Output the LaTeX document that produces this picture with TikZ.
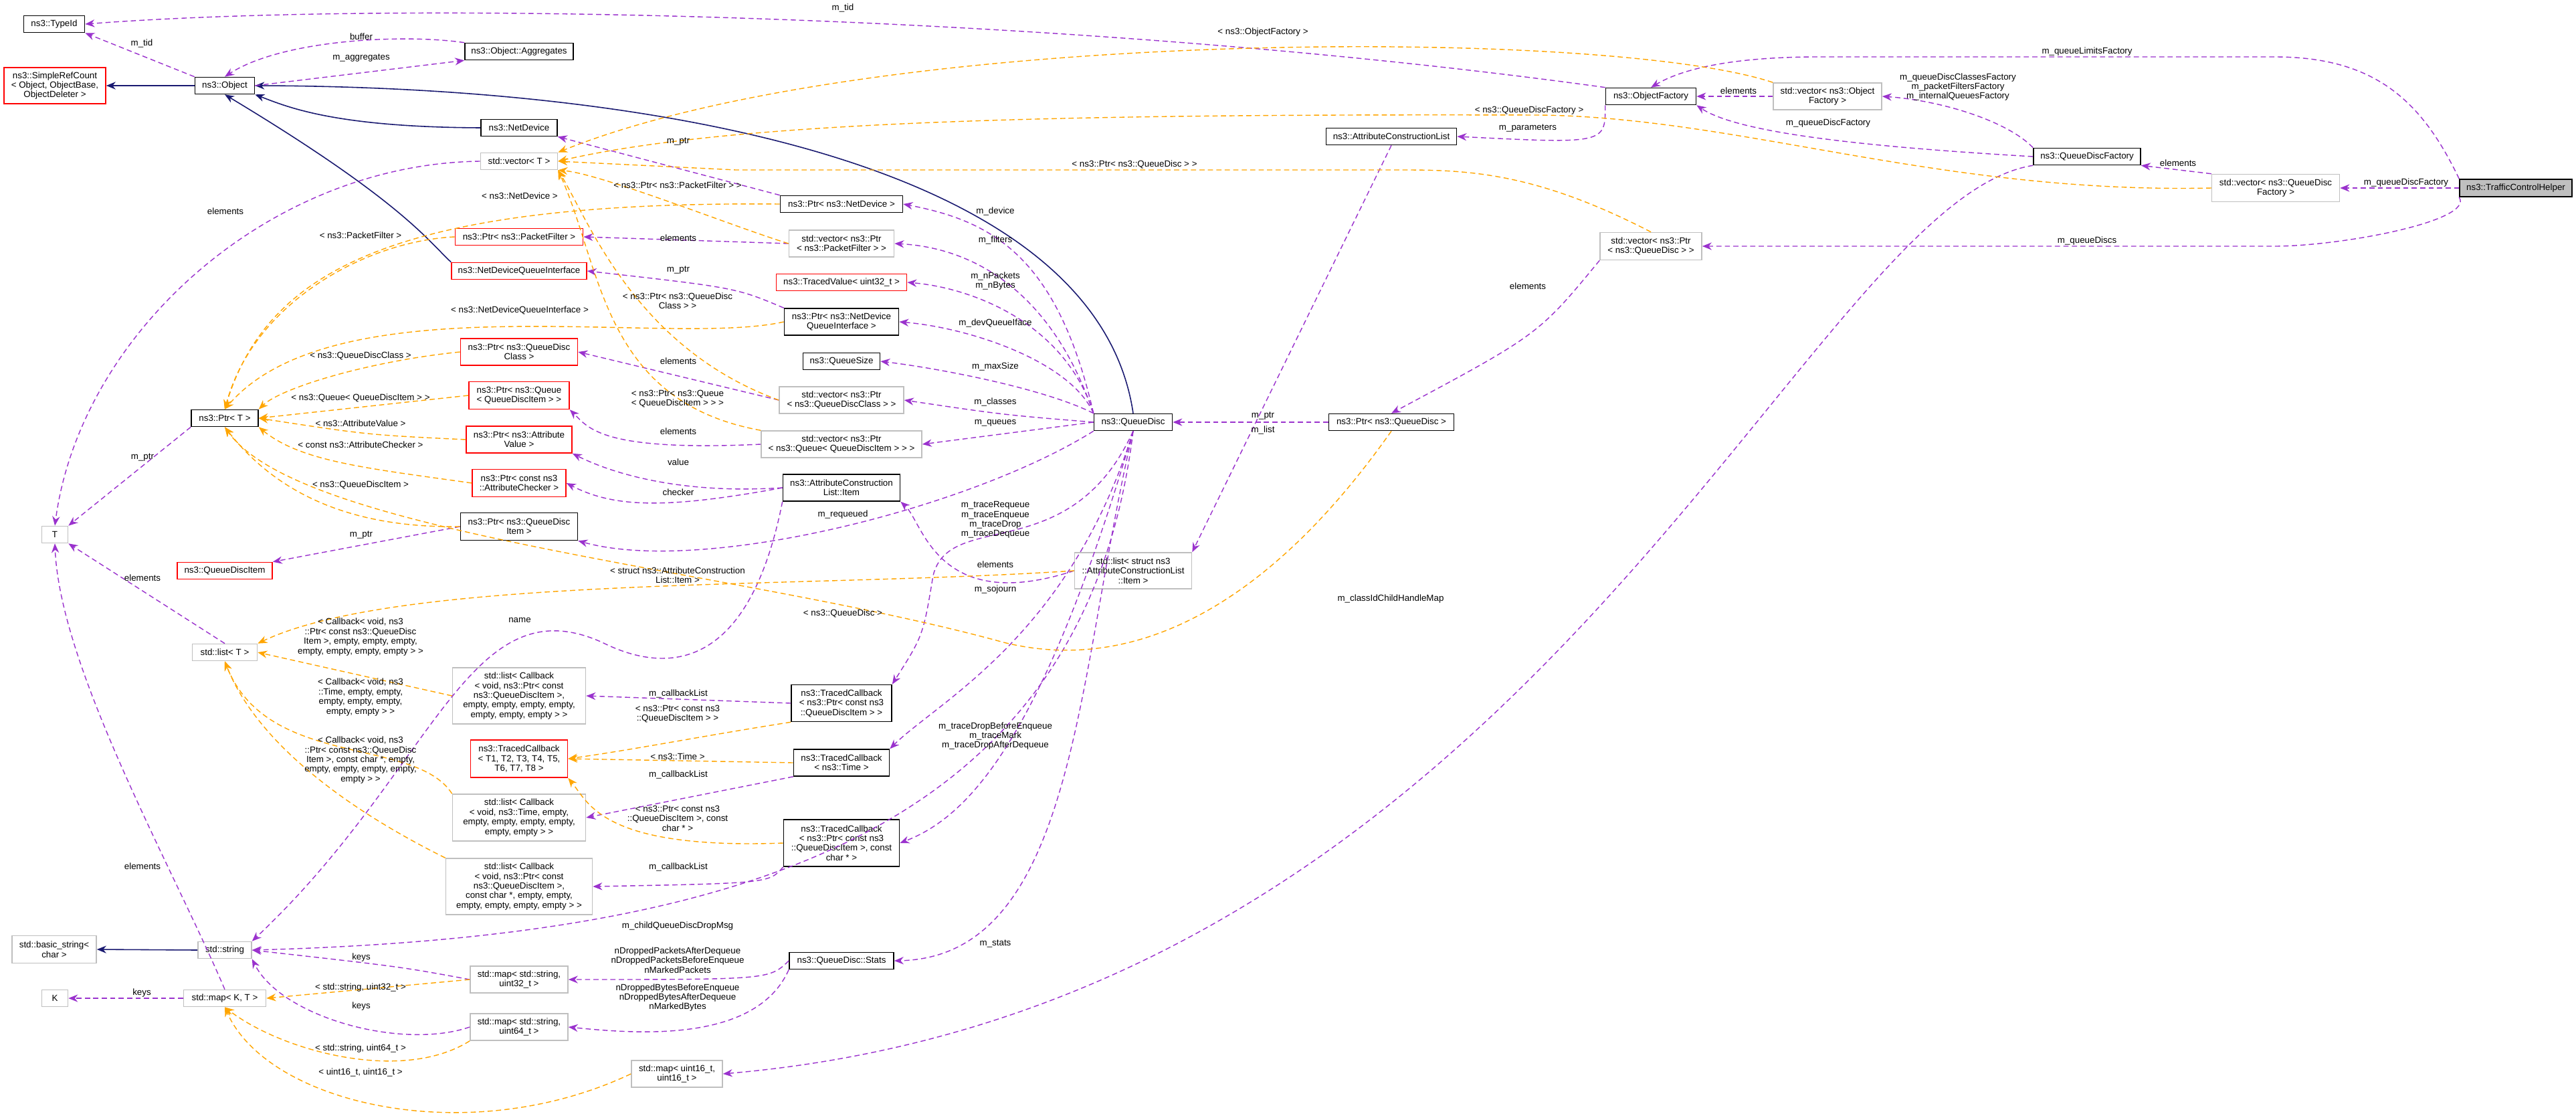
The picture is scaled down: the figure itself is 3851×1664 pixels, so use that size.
\documentclass[tikz,border=0pt]{standalone}
\usepackage{fontspec}
\setmainfont{Liberation Sans}
\usetikzlibrary{arrows.meta}
\definecolor{mp}{HTML}{9A32CD}
\definecolor{mo}{HTML}{FFA500}
\definecolor{mn}{HTML}{191970}
\definecolor{mg}{HTML}{BFBFBF}
\begin{document}
\begin{tikzpicture}[x=0.1mm,y=-0.1mm,
  every node/.style={font=\fontsize{3.8}{4.1}\selectfont,align=center,inner sep=0.8pt},
  bx/.style={draw=black,line width=0.45pt,fill=white,minimum height=2.5mm},
  rb/.style={draw=red,line width=0.45pt,fill=white,minimum height=2.5mm},
  gb/.style={draw=mg,line width=0.45pt,fill=white,minimum height=2.5mm},
  lb/.style={fill=none},
  mem/.style={draw=mp,dashed,dash pattern=on 2.2pt off 1.4pt,line width=0.4pt,-{Stealth[length=4pt,width=3.2pt]}},
  tmpl/.style={draw=mo,dashed,dash pattern=on 2.2pt off 1.4pt,line width=0.4pt,-{Stealth[length=4pt,width=3.2pt]}},
  inh/.style={draw=mn,line width=0.45pt,-{Stealth[length=4pt,width=3.2pt]}}]
\useasboundingbox (0,0) rectangle (3851,1664);
% nodes
\node[bx,minimum width=9.1mm] (tid) at (81,36) {ns3::TypeId};
\node[bx,minimum width=16.2mm] (agg) at (776,77) {ns3::Object::Aggregates};
\node[rb,minimum width=15.2mm,minimum height=5.4mm] (src) at (82,128) {ns3::SimpleRefCount\\< Object, ObjectBase,\\ObjectDeleter >};
\node[bx,minimum width=8.9mm] (obj) at (336,128) {ns3::Object};
\node[bx,minimum width=11.4mm] (netdev) at (776,191) {ns3::NetDevice};
\node[gb,minimum width=11.5mm] (vecT) at (776,241) {std::vector< T >};
\node[bx,minimum width=18.3mm] (pnd) at (1258,305) {ns3::Ptr< ns3::NetDevice >};
\node[gb,minimum width=15.7mm,minimum height=4mm] (vpf) at (1258,364) {std::vector< ns3::Ptr\\< ns3::PacketFilter > >};
\node[rb,minimum width=19.1mm] (ppf) at (776,354) {ns3::Ptr< ns3::PacketFilter >};
\node[rb,minimum width=20.2mm] (ndqi) at (776,405) {ns3::NetDeviceQueueInterface};
\node[rb,minimum width=19.5mm] (tv) at (1258,422) {ns3::TracedValue< uint32\_t >};
\node[bx,minimum width=17.1mm,minimum height=4mm] (pndqi) at (1258,481) {ns3::Ptr< ns3::NetDevice\\QueueInterface >};
\node[bx,minimum width=11.5mm] (qsize) at (1258,540) {ns3::QueueSize};
\node[rb,minimum width=17.5mm,minimum height=4mm] (pqdc) at (776,526) {ns3::Ptr< ns3::QueueDisc\\Class >};
\node[gb,minimum width=18.6mm,minimum height=4mm] (vpqdc) at (1258,598) {std::vector< ns3::Ptr\\< ns3::QueueDiscClass > >};
\node[gb,minimum width=24mm,minimum height=4mm] (vpq) at (1258,664) {std::vector< ns3::Ptr\\< ns3::Queue< QueueDiscItem > > >};
\node[bx,minimum width=10mm] (pT) at (336,625) {ns3::Ptr< T >};
\node[rb,minimum width=15mm,minimum height=4.1mm] (pq) at (776,591) {ns3::Ptr< ns3::Queue\\< QueueDiscItem > >};
\node[rb,minimum width=15.8mm,minimum height=4mm] (pav) at (776,657) {ns3::Ptr< ns3::Attribute\\Value >};
\node[rb,minimum width=14mm,minimum height=4.1mm] (pac) at (776,722) {ns3::Ptr< const ns3\\::AttributeChecker >};
\node[bx,minimum width=17.5mm,minimum height=4.1mm] (pqdi) at (776,787) {ns3::Ptr< ns3::QueueDisc\\Item >};
\node[bx,minimum width=17.5mm,minimum height=4mm] (item) at (1258,729) {ns3::AttributeConstruction\\List::Item};
\node[gb,minimum width=3.9mm] (T) at (82,799) {T};
\node[rb,minimum width=14.2mm] (qdi) at (336,853) {ns3::QueueDiscItem};
\node[gb,minimum width=9.7mm] (lT) at (336,975) {std::list< T >};
\node[gb,minimum width=19.9mm,minimum height=8.4mm] (lcq) at (776,1040) {std::list< Callback\\< void, ns3::Ptr< const\\ns3::QueueDiscItem >,\\empty, empty, empty, empty,\\empty, empty, empty > >};
\node[rb,minimum width=14.5mm,minimum height=5.6mm] (tcT) at (776,1134) {ns3::TracedCallback\\< T1, T2, T3, T4, T5,\\T6, T7, T8 >};
\node[gb,minimum width=19.9mm,minimum height=7mm] (lct) at (776,1222) {std::list< Callback\\< void, ns3::Time, empty,\\empty, empty, empty, empty,\\empty, empty > >};
\node[gb,minimum width=21.9mm,minimum height=8.4mm] (lcqc) at (776,1325) {std::list< Callback\\< void, ns3::Ptr< const\\ns3::QueueDiscItem >,\\const char *, empty, empty,\\empty, empty, empty, empty > >};
\node[bx,minimum width=15mm,minimum height=5.5mm] (tcq) at (1258,1051) {ns3::TracedCallback\\< ns3::Ptr< const ns3\\::QueueDiscItem > >};
\node[bx,minimum width=14.3mm,minimum height=4mm] (tct) at (1258,1140) {ns3::TracedCallback\\< ns3::Time >};
\node[bx,minimum width=17.3mm,minimum height=7mm] (tcqc) at (1258,1260) {ns3::TracedCallback\\< ns3::Ptr< const ns3\\::QueueDiscItem >, const\\char * >};
\node[gb,minimum width=12.6mm,minimum height=4.1mm] (bstr) at (81,1419) {std::basic\_string<\\char >};
\node[gb,minimum width=8mm] (str) at (336,1420) {std::string};
\node[gb,minimum width=3.9mm] (K) at (82,1492) {K};
\node[gb,minimum width=12.3mm] (mKT) at (336,1492) {std::map< K, T >};
\node[gb,minimum width=14.6mm,minimum height=4mm] (m32) at (776,1464) {std::map< std::string,\\uint32\_t >};
\node[gb,minimum width=14.6mm,minimum height=4mm] (m64) at (776,1535) {std::map< std::string,\\uint64\_t >};
\node[gb,minimum width=13.6mm,minimum height=4mm] (m16) at (1012,1605) {std::map< uint16\_t,\\uint16\_t >};
\node[bx,minimum width=15.6mm] (stats) at (1258,1436) {ns3::QueueDisc::Stats};
\node[bx,minimum width=11.7mm] (qd) at (1694,631) {ns3::QueueDisc};
\node[bx,minimum width=18.7mm] (pqd) at (2080,631) {ns3::Ptr< ns3::QueueDisc >};
\node[gb,minimum width=17.5mm,minimum height=5.4mm] (lsi) at (1694,853) {std::list< struct ns3\\::AttributeConstructionList\\::Item >};
\node[bx,minimum width=19.5mm] (acl) at (2080,204) {ns3::AttributeConstructionList};
\node[bx,minimum width=13.5mm] (of) at (2468,144) {ns3::ObjectFactory};
\node[gb,minimum width=16.2mm,minimum height=4mm] (vof) at (2732,144) {std::vector< ns3::Object\\Factory >};
\node[bx,minimum width=16mm] (qdf) at (3120,234) {ns3::QueueDiscFactory};
\node[gb,minimum width=19.1mm,minimum height=4.1mm] (vqdf) at (3402,281) {std::vector< ns3::QueueDisc\\Factory >};
\node[draw=black,fill=mg,line width=0.45pt,minimum width=16.8mm,minimum height=2.6mm] (tch) at (3761,281) {ns3::TrafficControlHelper};
\node[gb,minimum width=15.2mm,minimum height=4.1mm] (vpqd) at (2468,368) {std::vector< ns3::Ptr\\< ns3::QueueDisc > >};
% inheritance
\draw[inh] (obj.west) -- (src.east);
\draw[inh] (netdev.west) .. controls (500,190) and (430,160) .. (obj.south east);
\draw[inh] (ndqi.north west) .. controls (640,360) and (600,300) .. (obj.south);
\draw[inh] (qd.north) .. controls (1640,250) and (1000,130) .. (obj.east);
\draw[inh] (str.west) -- (bstr.east);
% member edges
\draw[mem] (obj.north west) -- (tid.south east);
\draw[mem] (of.north west) .. controls (1600,20) and (600,0) .. (tid.east);
\draw[mem] (agg.north west) .. controls (600,50) and (420,60) .. (obj.north);
\draw[mem] (obj.east) -- (agg.south west);
\draw[mem] (vecT.west) .. controls (400,245) and (120,500) .. (T.north);
\draw[mem] (pnd.north west) -- (netdev.south east);
\draw[mem] (vpf.west) -- (ppf.east);
\draw[mem] (pndqi.north west) .. controls (1100,430) .. (ndqi.east);
\draw[mem] (vpqdc.west) -- (pqdc.east);
\draw[mem] (vpq.west) .. controls (900,675) and (880,640) .. (pq.south east);
\draw[mem] (item.west) .. controls (1000,740) and (900,700) .. (pav.south east);
\draw[mem] (item.west) .. controls (1000,760) and (920,760) .. (pac.east);
\draw[mem] (pT.south west) -- (T.north east);
\draw[mem] (pqdi.west) -- (qdi.north east);
\draw[mem] (lT.north) -- (T.south east);
\draw[mem] (mKT.north) .. controls (260,1300) and (90,1000) .. (T.south);
\draw[mem] (tcq.west) -- (lcq.east);
\draw[mem] (tct.south west) -- (lct.east);
\draw[mem] (tcqc.south west) .. controls (1150,1320) .. (lcqc.east);
\draw[mem] (mKT.west) -- (K.east);
\draw[mem] (m32.west) .. controls (600,1445) .. (str.east);
\draw[mem] (m64.west) .. controls (600,1570) and (420,1520) .. (str.south east);
\draw[mem] (item.south west) .. controls (1120,1000) and (1000,1010) .. (900,960) .. controls (700,870) and (650,1150) .. (str.north east);
\draw[mem] (stats.west) .. controls (1150,1464) .. (m32.east);
\draw[mem] (stats.south west) .. controls (1130,1560) and (950,1545) .. (m64.east);
\draw[mem] (qd.north west) .. controls (1580,380) and (1480,330) .. (pnd.east);
\draw[mem] (qd.north west) .. controls (1570,430) and (1450,370) .. (vpf.east);
\draw[mem] (qd.north west) .. controls (1590,480) and (1450,430) .. (tv.east);
\draw[mem] (qd.north west) .. controls (1600,540) and (1450,490) .. (pndqi.east);
\draw[mem] (qd.north west) .. controls (1560,580) and (1400,550) .. (qsize.east);
\draw[mem] (qd.west) .. controls (1500,620) .. (vpqdc.east);
\draw[mem] (qd.west) -- (vpq.east);
\draw[mem] (qd.south west) .. controls (1450,760) and (1050,860) .. (pqdi.south east);
\draw[mem] (qd.south) .. controls (1600,850) and (1420,760) .. (1395,860) .. controls (1380,950) .. (tcq.north east);
\draw[mem] (qd.south) .. controls (1600,950) and (1400,1050) .. (tct.north east);
\draw[mem] (qd.south) .. controls (1560,1100) and (1450,1220) .. (tcqc.east);
\draw[mem] (qd.south) .. controls (1610,1000) and (1610,1430) .. (stats.east);
\draw[mem] (qd.south) .. controls (1620,1250) and (1100,1400) .. (str.east);
\draw[mem] (lsi.west) .. controls (1400,920) and (1380,780) .. (item.south east);
\draw[mem] (pqd.west) -- (qd.east);
\draw[mem] (acl.south) -- (lsi.north east);
\draw[mem] (vpqd.south west) .. controls (2300,500) .. (pqd.north);
\draw[mem] (of.south west) .. controls (2400,215) .. (acl.east);
\draw[mem] (vof.west) -- (of.east);
\draw[mem] (qdf.north west) .. controls (3000,180) and (2900,150) .. (vof.east);
\draw[mem] (qdf.west) .. controls (2800,220) and (2600,200) .. (of.south east);
\draw[mem] (vqdf.north west) -- (qdf.south east);
\draw[mem] (tch.west) -- (vqdf.east);
\draw[mem] (tch.north west) .. controls (3620,150) and (3550,85) .. (3400,85) -- (2720,85) .. controls (2600,85) and (2520,100) .. (of.north);
\draw[mem] (tch.south west) .. controls (3700,330) and (3500,368) .. (3400,368) -- (vpqd.east);
\draw[mem] (qdf.south west) .. controls (2700,300) and (2300,1500) .. (m16.east);
% template edges
\draw[tmpl] (vof.north west) .. controls (2400,40) and (1300,40) .. (vecT.north east);
\draw[tmpl] (vqdf.west) .. controls (2900,290) and (2600,175) .. (2300,172) .. controls (1600,170) and (1100,180) .. (vecT.east);
\draw[tmpl] (vpqd.north) .. controls (2300,260) and (2200,254) .. (2100,254) -- (1100,254) -- (vecT.east);
\draw[tmpl] (vpf.west) .. controls (1100,340) and (900,260) .. (vecT.south east);
\draw[tmpl] (vpqdc.west) .. controls (950,520) and (880,330) .. (vecT.south east);
\draw[tmpl] (vpq.north west) .. controls (900,600) and (900,400) .. (vecT.south east);
\draw[tmpl] (pnd.west) .. controls (600,300) and (400,400) .. (pT.north);
\draw[tmpl] (ppf.west) .. controls (550,360) and (380,450) .. (pT.north);
\draw[tmpl] (pndqi.west) .. controls (1000,520) and (500,420) .. (pT.north);
\draw[tmpl] (pqdc.west) .. controls (550,540) and (420,580) .. (pT.north east);
\draw[tmpl] (pq.west) -- (pT.east);
\draw[tmpl] (pav.west) .. controls (550,650) .. (pT.east);
\draw[tmpl] (pac.west) .. controls (550,700) and (450,690) .. (pT.south east);
\draw[tmpl] (pqdi.west) .. controls (500,790) and (400,720) .. (pT.south);
\draw[tmpl] (pqd.south) .. controls (1900,900) and (1700,1010) .. (1500,960) .. controls (1100,850) and (450,800) .. (pT.south);
\draw[tmpl] (lsi.west) .. controls (1200,880) and (600,860) .. (lT.north east);
\draw[tmpl] (lcq.west) -- (lT.east);
\draw[tmpl] (lct.north west) .. controls (620,1100) and (400,1150) .. (lT.south);
\draw[tmpl] (lcqc.north west) .. controls (500,1200) and (380,1100) .. (lT.south);
\draw[tmpl] (tcq.south west) .. controls (1050,1100) and (950,1120) .. (tcT.east);
\draw[tmpl] (tct.west) -- (tcT.east);
\draw[tmpl] (tcqc.west) .. controls (900,1270) and (880,1200) .. (tcT.south east);
\draw[tmpl] (m32.west) -- (mKT.east);
\draw[tmpl] (m64.south west) .. controls (600,1620) and (420,1570) .. (mKT.south);
\draw[tmpl] (m16.west) .. controls (700,1720) and (400,1650) .. (mKT.south);
% labels
\node[lb] (l1) at (212,65) {m\_tid};
\node[lb] (l2) at (1260,12) {m\_tid};
\node[lb] (l3) at (540,55) {buffer};
\node[lb] (l4) at (540,87) {m\_aggregates};
\node[lb] (l5) at (337,316) {elements};
\node[lb] (l6) at (1014,212) {m\_ptr};
\node[lb] (l7) at (1014,356) {elements};
\node[lb] (l8) at (1014,404) {m\_ptr};
\node[lb] (l9) at (1014,540) {elements};
\node[lb] (l10) at (1014,645) {elements};
\node[lb] (l11) at (1014,691) {value};
\node[lb] (l12) at (1014,736) {checker};
\node[lb] (l13) at (213,684) {m\_ptr};
\node[lb] (l14) at (540,800) {m\_ptr};
\node[lb] (l15) at (213,864) {elements};
\node[lb] (l16) at (213,1295) {elements};
\node[lb] (l17) at (1014,1037) {m\_callbackList};
\node[lb] (l18) at (1014,1158) {m\_callbackList};
\node[lb] (l19) at (1014,1296) {m\_callbackList};
\node[lb] (l20) at (212,1484) {keys};
\node[lb] (l21) at (540,1431) {keys};
\node[lb] (l22) at (540,1504) {keys};
\node[lb] (l23) at (777,927) {name};
\node[lb] (l24) at (1013,1435) {nDroppedPacketsAfterDequeue\\nDroppedPacketsBeforeEnqueue\\nMarkedPackets};
\node[lb] (l25) at (1013,1491) {nDroppedBytesBeforeEnqueue\\nDroppedBytesAfterDequeue\\nMarkedBytes};
\node[lb] (l26) at (1488,316) {m\_device};
\node[lb] (l27) at (1488,359) {m\_filters};
\node[lb] (l28) at (1488,420) {m\_nPackets\\m\_nBytes};
\node[lb] (l29) at (1488,483) {m\_devQueueIface};
\node[lb] (l30) at (1488,548) {m\_maxSize};
\node[lb] (l31) at (1488,601) {m\_classes};
\node[lb] (l32) at (1488,632) {m\_queues};
\node[lb] (l33) at (1260,769) {m\_requeued};
\node[lb] (l34) at (1488,777) {m\_traceRequeue\\m\_traceEnqueue\\m\_traceDrop\\m\_traceDequeue};
\node[lb] (l35) at (1488,844) {elements};
\node[lb] (l36) at (1488,881) {m\_sojourn};
\node[lb] (l37) at (1488,1100) {m\_traceDropBeforeEnqueue\\m\_traceMark\\m\_traceDropAfterDequeue};
\node[lb] (l38) at (1488,1410) {m\_stats};
\node[lb] (l39) at (1013,1384) {m\_childQueueDiscDropMsg};
\node[lb] (l40) at (1888,622) {m\_ptr};
\node[lb] (l41) at (1888,643) {m\_list};
\node[lb] (l42) at (2284,428) {elements};
\node[lb] (l43) at (2284,192) {m\_parameters};
\node[lb] (l44) at (2599,136) {elements};
\node[lb] (l45) at (2927,130) {m\_queueDiscClassesFactory\\m\_packetFiltersFactory\\m\_internalQueuesFactory};
\node[lb] (l46) at (2733,184) {m\_queueDiscFactory};
\node[lb] (l47) at (3256,244) {elements};
\node[lb] (l48) at (3597,273) {m\_queueDiscFactory};
\node[lb] (l49) at (3120,77) {m\_queueLimitsFactory};
\node[lb] (l50) at (3120,360) {m\_queueDiscs};
\node[lb] (l51) at (2079,895) {m\_classIdChildHandleMap};
\node[lb] (t1) at (1888,48) {< ns3::ObjectFactory >};
\node[lb] (t2) at (2286,165) {< ns3::QueueDiscFactory >};
\node[lb] (t3) at (1696,246) {< ns3::Ptr< ns3::QueueDisc > >};
\node[lb] (t4) at (1013,277) {< ns3::Ptr< ns3::PacketFilter > >};
\node[lb] (t5) at (1013,450) {< ns3::Ptr< ns3::QueueDisc\\Class > >};
\node[lb] (t6) at (1013,596) {< ns3::Ptr< ns3::Queue\\< QueueDiscItem > > >};
\node[lb] (t7) at (777,293) {< ns3::NetDevice >};
\node[lb] (t8) at (539,352) {< ns3::PacketFilter >};
\node[lb] (t9) at (777,464) {< ns3::NetDeviceQueueInterface >};
\node[lb] (t10) at (539,532) {< ns3::QueueDiscClass >};
\node[lb] (t11) at (539,595) {< ns3::Queue< QueueDiscItem > >};
\node[lb] (t12) at (539,633) {< ns3::AttributeValue >};
\node[lb] (t13) at (539,665) {< const ns3::AttributeChecker >};
\node[lb] (t14) at (539,725) {< ns3::QueueDiscItem >};
\node[lb] (t15) at (1260,917) {< ns3::QueueDisc >};
\node[lb] (t16) at (1013,860) {< struct ns3::AttributeConstruction\\List::Item >};
\node[lb] (t17) at (539,952) {< Callback< void, ns3\\::Ptr< const ns3::QueueDisc\\Item >, empty, empty, empty,\\empty, empty, empty, empty > >};
\node[lb] (t18) at (539,1042) {< Callback< void, ns3\\::Time, empty, empty,\\empty, empty, empty,\\empty, empty > >};
\node[lb] (t19) at (539,1136) {< Callback< void, ns3\\::Ptr< const ns3::QueueDisc\\Item >, const char *, empty,\\empty, empty, empty, empty,\\empty > >};
\node[lb] (t20) at (1013,1067) {< ns3::Ptr< const ns3\\::QueueDiscItem > >};
\node[lb] (t21) at (1013,1131) {< ns3::Time >};
\node[lb] (t22) at (1013,1223) {< ns3::Ptr< const ns3\\::QueueDiscItem >, const\\char * >};
\node[lb] (t23) at (539,1476) {< std::string, uint32\_t >};
\node[lb] (t24) at (539,1567) {< std::string, uint64\_t >};
\node[lb] (t25) at (539,1603) {< uint16\_t, uint16\_t >};
\end{tikzpicture}
\end{document}
